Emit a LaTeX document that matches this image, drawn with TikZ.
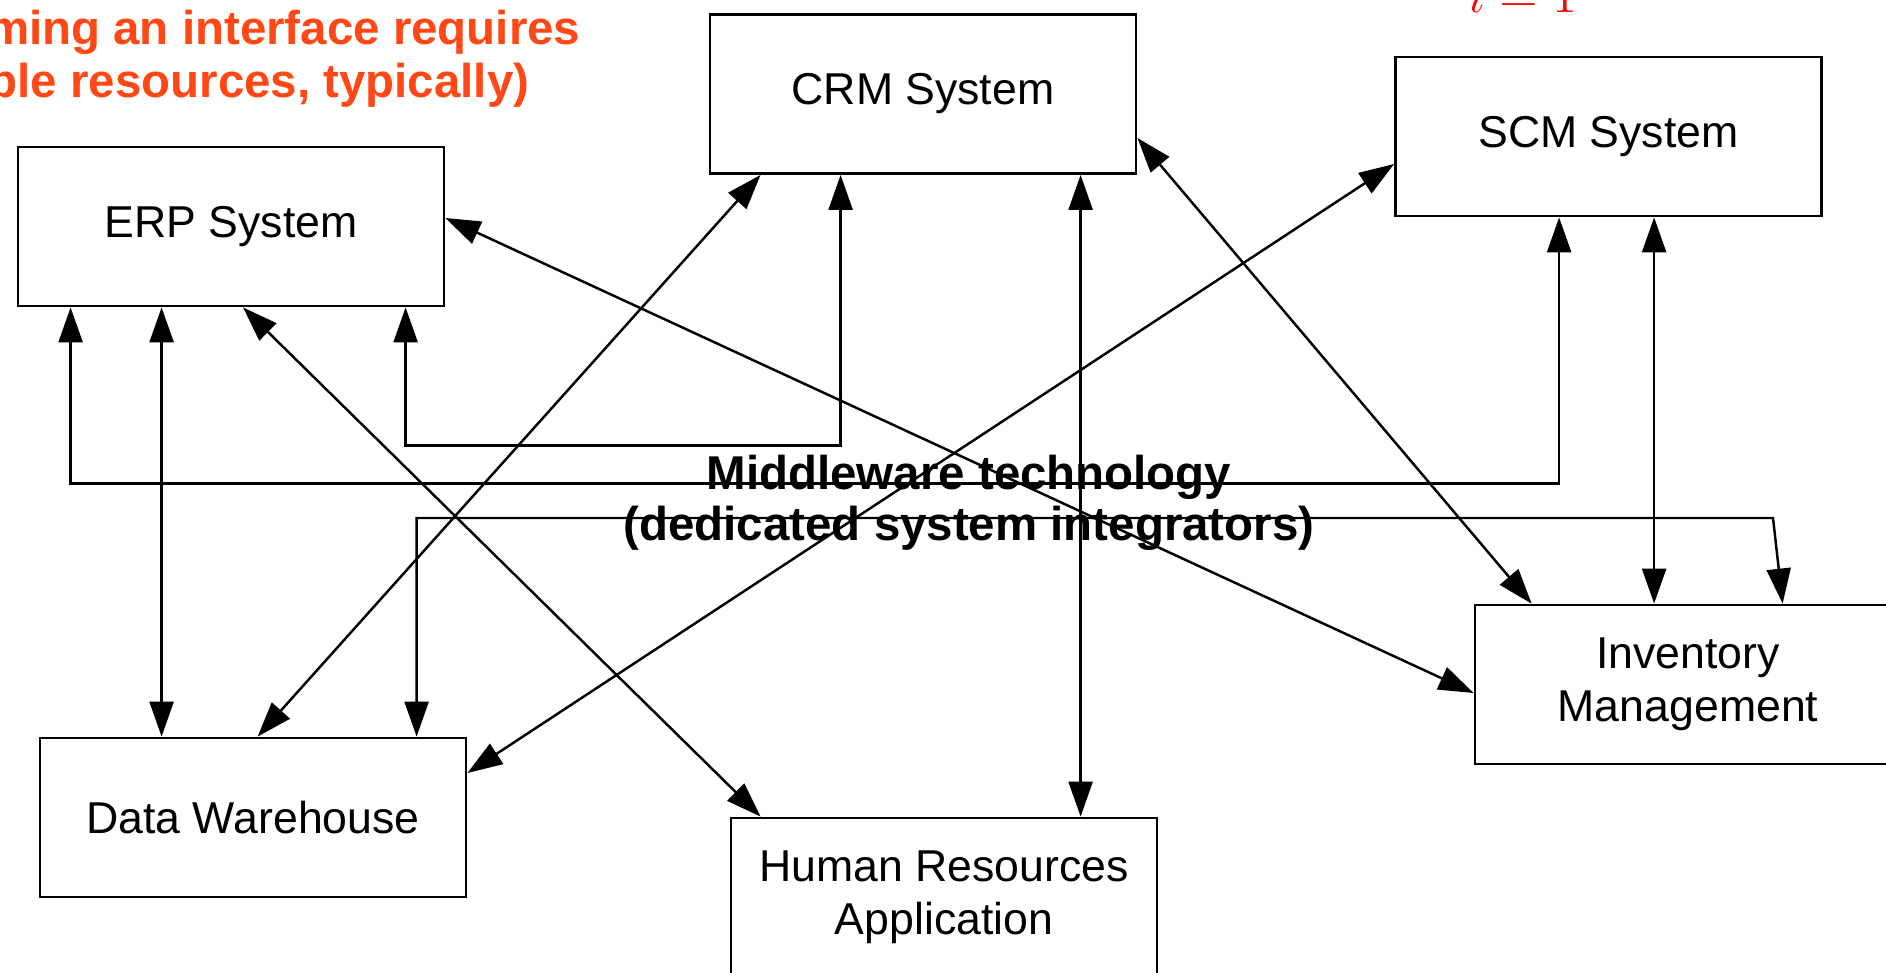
\documentclass[tikz,border=0pt]{standalone}
\usepackage{fontspec}
\setmainfont{Liberation Sans}
\usetikzlibrary{arrows.meta}
\definecolor{notered}{RGB}{255,72,22}
\tikzset{
  sysbox/.style={draw, line width=0.8pt, minimum width=4.26cm, minimum height=1.59cm,
    inner sep=0pt, align=center, font=\fontsize{12.7}{15.1}\selectfont},
  link/.style={line width=0.7pt,
    {Triangle[length=3.5mm,width=2.4mm]}-{Triangle[length=3.5mm,width=2.4mm]}},
  mwtext/.style={inner sep=0pt, align=center, font=\fontsize{13.5}{14.6}\selectfont\bfseries},
  notetext/.style={inner sep=0pt, text=notered, font=\fontsize{13.5}{14.6}\selectfont\bfseries},
}

\begin{document}
\begin{tikzpicture}
			%%%%% START %%%%%
			\useasboundingbox (0,0) rectangle (18.86,9.72);
			
			\node[sysbox] (erp) at (2.31, 7.455) {ERP System};
			\node[sysbox] (crm) at (9.23, 8.78) {CRM System};
			\node[sysbox] (scm) at (16.085, 8.355) {SCM System};
			\node[sysbox] (dw) at (2.53, 1.545) {Data Warehouse};
			\node[sysbox] (hr) at (9.44, 0.745) {Human Resources\\Application};
			\node[sysbox] (inv) at (16.88, 2.875) {Inventory\\Management};
			
			\draw[link] ([yshift=0.085cm]erp.east) -- ([yshift=-0.085cm]inv.west);
			\draw[link] ([xshift=0.12cm]erp.south) -- ([xshift=0.31cm]hr.north west);
			\draw[link] ([xshift=1.45cm]erp.south west) coordinate (e1) -- (e1 |- dw.north);
			\draw[link] ([xshift=0.54cm]erp.south west) -- ++(0,-1.76) -| ([xshift=1.65cm]scm.south west);
			\draw[link] ([xshift=3.89cm]erp.south west) -- ++(0,-1.38) -| ([xshift=1.32cm]crm.south west);
			
			\draw[link] ([xshift=0.52cm]crm.south west) -- ([xshift=2.19cm]dw.north west);
			\draw[link] ([xshift=3.72cm]crm.south west) coordinate (c1) -- (c1 |- hr.north);
			\draw[link] ([yshift=-0.44cm]crm.east) -- ([xshift=0.58cm]inv.north west);
			
			\draw[link] ([yshift=-0.275cm]scm.west) -- ([yshift=0.445cm]dw.east);
			\draw[link] ([xshift=2.60cm]scm.south west) coordinate (s1) -- (s1 |- inv.north);
			
			\coordinate (kink) at (17.73, 4.54);
			\draw[link] ([xshift=3.78cm]dw.north west) |- (kink) -- ([xshift=3.09cm]inv.north west);
			
			\node[mwtext] (mw) at (9.69, 4.69) {Middleware technology\\(dedicated system integrators)};
			
			\node[notetext, anchor=base east] (note1) at (5.81, 9.27) {ming an interface requires};
			\node[notetext, anchor=base east] (note2) at (5.30, 8.74) {ble resources, typically)};
			\node[anchor=base west, inner sep=0pt, text=red, font=\fontsize{14.3}{17}\selectfont] (sumidx) at (14.68, 9.59) {$i=1$};
			
			%%%%% END %%%%%
\end{tikzpicture}
\end{document}
